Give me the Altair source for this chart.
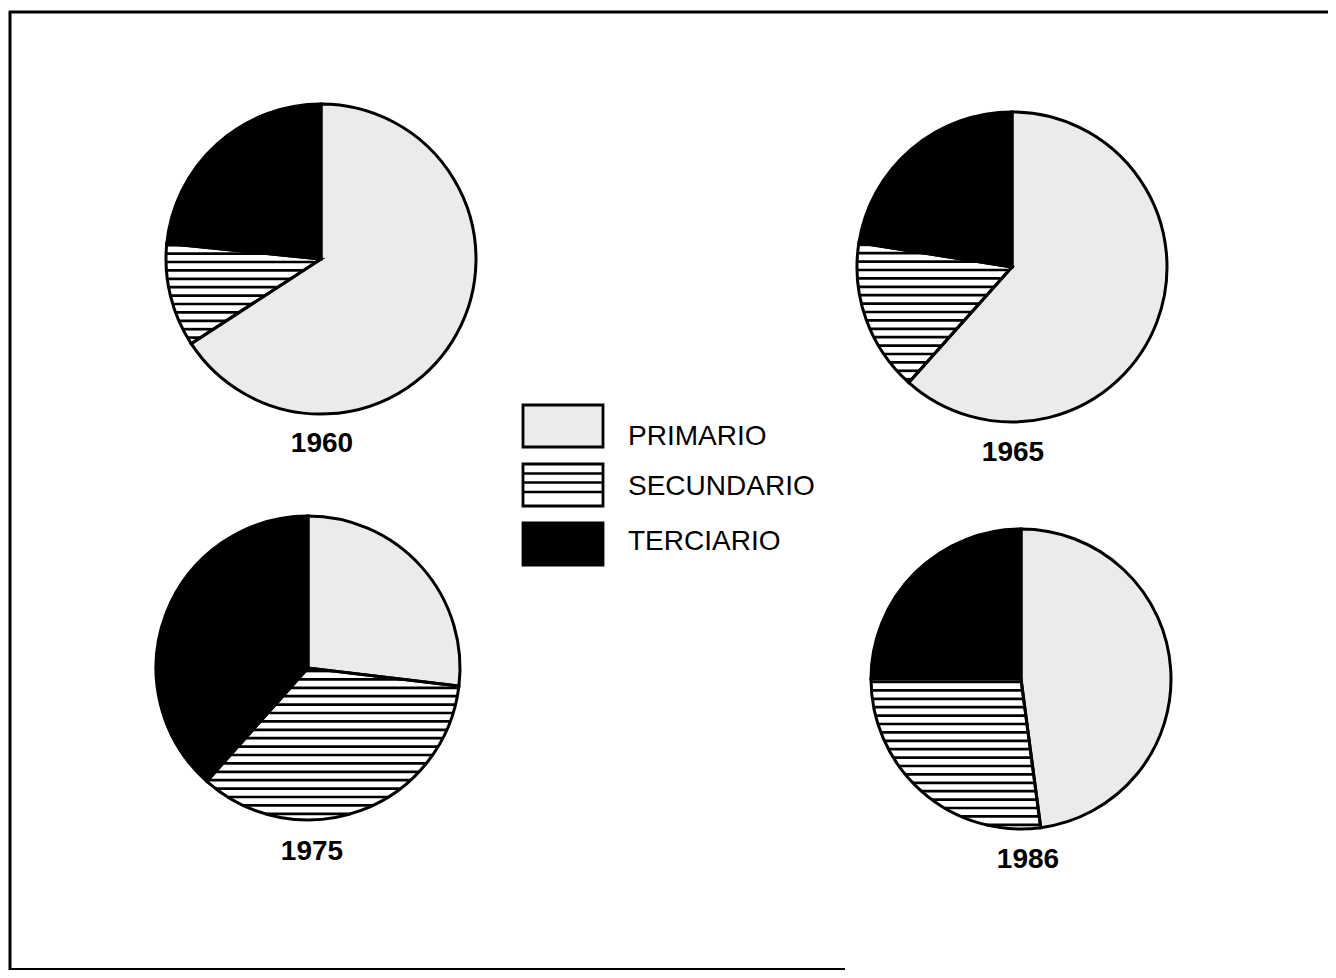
import altair as alt
import numpy as np
import pandas as pd

# ---------------- data ----------------
years = ["1960", "1965", "1975", "1986"]
sectors = ["PRIMARIO", "SECUNDARIO", "TERCIARIO"]
primario = [65.8, 61.6, 26.9, 47.9]
secundario = [10.8, 15.9, 34.7, 27.1]
terciario = [23.4, 22.5, 38.4, 25.0]

# ---------------- layout (page pixels) ----------------
OFF = 8
W, H = 1320, 962
PIES = {
    "1960": dict(cx=321, cy=259, r=155, lx=322, ly=444),
    "1965": dict(cx=1012, cy=267, r=155, lx=1013, ly=453),
    "1975": dict(cx=308, cy=668, r=152, lx=312, ly=852),
    "1986": dict(cx=1021, cy=679, r=150, lx=1028, ly=860),
}
LEG_X0, LEG_X1 = 523, 603
LEG_TOPS = [405, 464, 523]
LEG_H = 42
LEG_TEXT_X = 628
LEG_TEXT_Y = [437, 487, 542]
STRIPE_PERIOD = 8.4
STRIPE_W = 2.7
FILLS = ["#ebebeb", "#ffffff", "#000000"]

rows = []
for i, yr in enumerate(years):
    for j, (s, vals) in enumerate(zip(sectors, [primario, secundario, terciario])):
        rows.append({"year": yr, "sector": s, "order": j, "value": vals[i]})
df = pd.DataFrame(rows)

fill_scale = alt.Scale(domain=sectors, range=FILLS)


def px(v):
    return v - OFF


# stripes for the SECUNDARIO wedge, derived from the data values
stripe_rows = []
for i, yr in enumerate(years):
    L = PIES[yr]
    cx, cy, r = px(L["cx"]), px(L["cy"]), L["r"]
    tot = primario[i] + secundario[i] + terciario[i]
    a0 = primario[i] / tot * 360.0
    a1 = (primario[i] + secundario[i]) / tot * 360.0
    xs = np.linspace(-r, r, 3000)
    k = np.arange(-40, 41)
    for dy in k * STRIPE_PERIOD + 3.0:
        if abs(dy) >= r:
            continue
        ang = np.degrees(np.arctan2(xs, -dy)) % 360.0
        rr = np.hypot(xs, dy)
        m = (rr <= r) & (ang >= a0) & (ang <= a1)
        if m.sum() < 2:
            continue
        stripe_rows.append({"year": yr, "x": cx + xs[m].min(), "x2": cx + xs[m].max(), "y": cy + dy})
stripes = pd.DataFrame(stripe_rows)

layers = []

# pie fills
for yr in years:
    L = PIES[yr]
    layers.append(
        alt.Chart(df)
        .transform_filter(alt.datum.year == yr)
        .mark_arc(radius=L["r"], strokeWidth=0)
        .encode(
            theta=alt.Theta("value:Q", stack="normalize"),
            order=alt.Order("order:Q"),
            color=alt.Color("sector:N", scale=fill_scale, legend=None),
            x=alt.value(px(L["cx"])),
            y=alt.value(px(L["cy"])),
        )
    )

# stripes
layers.append(
    alt.Chart(stripes)
    .mark_rule(color="black", strokeWidth=STRIPE_W)
    .encode(
        x=alt.X("x:Q", scale=None, axis=None),
        x2="x2:Q",
        y=alt.Y("y:Q", scale=None, axis=None),
    )
)

# pie outlines
for yr in years:
    L = PIES[yr]
    layers.append(
        alt.Chart(df)
        .transform_filter(alt.datum.year == yr)
        .mark_arc(radius=L["r"], fillOpacity=0, stroke="black", strokeWidth=3)
        .encode(
            theta=alt.Theta("value:Q", stack="normalize"),
            order=alt.Order("order:Q"),
            x=alt.value(px(L["cx"])),
            y=alt.value(px(L["cy"])),
        )
    )

# year labels
for yr in years:
    L = PIES[yr]
    layers.append(
        alt.Chart(pd.DataFrame({"year": [yr]}))
        .mark_text(font="Liberation Sans", fontSize=28, fontWeight="bold", color="black",
                   align="center", baseline="middle")
        .encode(text="year:N", x=alt.value(px(L["lx"])), y=alt.value(px(L["ly"])))
    )

# legend
leg_df = pd.DataFrame({"sector": sectors})
for j, s in enumerate(sectors):
    top = LEG_TOPS[j]
    layers.append(
        alt.Chart(leg_df)
        .transform_filter(alt.datum.sector == s)
        .mark_rect(stroke="black", strokeWidth=2.8)
        .encode(
            color=alt.Color("sector:N", scale=fill_scale, legend=None),
            x=alt.value(px(LEG_X0)), x2=alt.value(px(LEG_X1)),
            y=alt.value(px(top)), y2=alt.value(px(top + LEG_H)),
        )
    )
    layers.append(
        alt.Chart(leg_df)
        .transform_filter(alt.datum.sector == s)
        .mark_text(font="Liberation Sans", fontSize=28, color="black", align="left", baseline="middle")
        .encode(text="sector:N", x=alt.value(px(LEG_TEXT_X)), y=alt.value(px(LEG_TEXT_Y[j])))
    )

# legend stripes for SECUNDARIO box
top2 = LEG_TOPS[1]
leg_stripes = pd.DataFrame({"y": [px(top2 + 9.5), px(top2 + 18.5), px(top2 + 28)],
                            "x": [px(LEG_X0)] * 3, "x2": [px(LEG_X1)] * 3})
layers.append(
    alt.Chart(leg_stripes)
    .mark_rule(color="black", strokeWidth=STRIPE_W)
    .encode(x=alt.X("x:Q", scale=None, axis=None), x2="x2:Q", y=alt.Y("y:Q", scale=None, axis=None))
)

# frame (left, top, bottom)
frame = pd.DataFrame({"k": [0]})
layers.append(alt.Chart(frame).mark_rule(color="black", strokeWidth=3)
              .encode(x=alt.value(px(10)), y=alt.value(px(11)), y2=alt.value(px(970))))
layers.append(alt.Chart(frame).mark_rule(color="black", strokeWidth=3)
              .encode(x=alt.value(px(9)), x2=alt.value(W), y=alt.value(px(12))))
layers.append(alt.Chart(frame).mark_rule(color="black", strokeWidth=3)
              .encode(x=alt.value(px(9)), x2=alt.value(px(845)), y=alt.value(px(969.5))))

chart = (
    alt.layer(*layers)
    .resolve_scale(color="shared")
    .properties(width=W, height=H, padding=0, autosize="none", background="white")
    .configure_view(stroke=None)
)

chart.save("out.html", embed_options={"renderer": "svg", "actions": False})
